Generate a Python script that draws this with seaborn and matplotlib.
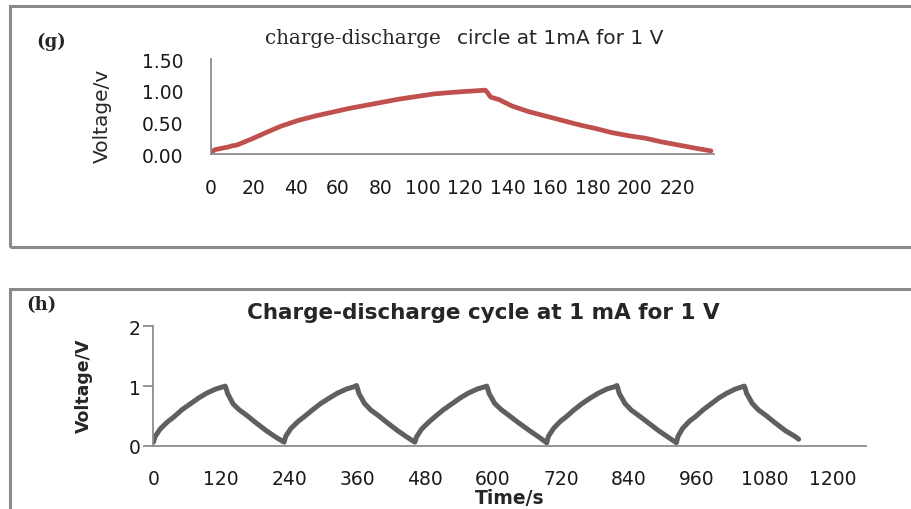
import matplotlib
matplotlib.use("Agg")
import matplotlib.pyplot as plt
from matplotlib.patches import Rectangle
import seaborn as sns

# (g) single charge-discharge at 1 mA
time_g = [0, 1, 2, 5, 8, 10, 12, 15, 20, 26, 33, 41, 49, 57, 65, 73, 81, 89, 97, 105,
          112, 120, 125, 129.5, 130.5, 132, 136, 142, 150, 158, 166, 174, 182, 189,
          197, 205, 213, 221, 229, 236]
volt_g = [0.0, 0.05, 0.07, 0.09, 0.11, 0.13, 0.14, 0.18, 0.25, 0.34, 0.44, 0.53, 0.60,
          0.66, 0.72, 0.77, 0.82, 0.87, 0.91, 0.95, 0.97, 0.99, 1.0, 1.01, 0.97, 0.90,
          0.86, 0.76, 0.67, 0.60, 0.53, 0.46, 0.40, 0.34, 0.29, 0.25, 0.19, 0.14, 0.09,
          0.05]
xticks_g = [0, 20, 40, 60, 80, 100, 120, 140, 160, 180, 200, 220]
yticks_g = [0.0, 0.5, 1.0, 1.5]

# (h) five cycles at 1 mA
time_h = [0, 3, 12, 25, 36, 50, 65, 80, 94, 110, 124, 127,
          129, 131, 141, 152, 165, 182, 200, 217, 231,
          234, 243, 256, 267, 281, 296, 311, 325, 341, 355, 359,
          361, 363, 373, 384, 397, 414, 432, 449, 462,
          465, 474, 487, 498, 512, 527, 542, 556, 572, 586, 589,
          591, 593, 603, 614, 628, 646, 665, 682, 695,
          698, 707, 719, 730, 743, 758, 772, 786, 801, 815, 819,
          821, 823, 833, 844, 857, 875, 893, 910, 924,
          927, 935, 947, 958, 971, 985, 999, 1013, 1028, 1041, 1044,
          1046, 1048, 1058, 1069, 1082, 1099, 1117, 1133, 1140]
volt_h = [0.06, 0.15, 0.28, 0.40, 0.48, 0.60, 0.70, 0.80, 0.88, 0.95, 0.99, 1.0,
          0.95, 0.88, 0.70, 0.60, 0.51, 0.38, 0.25, 0.14, 0.06,
          0.16, 0.29, 0.41, 0.49, 0.60, 0.71, 0.80, 0.88, 0.95, 0.99, 1.01,
          0.95, 0.88, 0.71, 0.60, 0.51, 0.38, 0.25, 0.14, 0.06,
          0.15, 0.28, 0.40, 0.49, 0.60, 0.70, 0.80, 0.88, 0.95, 0.99, 1.0,
          0.95, 0.88, 0.71, 0.61, 0.51, 0.38, 0.25, 0.14, 0.05,
          0.16, 0.29, 0.41, 0.49, 0.60, 0.71, 0.80, 0.88, 0.95, 0.99, 1.01,
          0.95, 0.88, 0.71, 0.60, 0.51, 0.38, 0.25, 0.14, 0.05,
          0.16, 0.29, 0.41, 0.49, 0.60, 0.70, 0.80, 0.88, 0.95, 0.99, 1.0,
          0.95, 0.88, 0.71, 0.60, 0.51, 0.38, 0.25, 0.16, 0.11]
xticks_h = [0, 120, 240, 360, 480, 600, 720, 840, 960, 1080, 1200]
yticks_h = [0, 1, 2]

sns.set_style("white")
plt.rcParams['font.family'] = ['DejaVu Sans']

fig = plt.figure(figsize=(9.11, 5.10), dpi=100)
axis_grey = '#8c8c8c'

# panel frames
fig.add_artist(Rectangle((0.011, 0.514), 1.1, 0.472, transform=fig.transFigure,
                         fill=False, edgecolor='#8a8a8a', linewidth=2.2))
fig.add_artist(Rectangle((0.011, -0.1), 1.1, 0.531, transform=fig.transFigure,
                         fill=False, edgecolor='#8a8a8a', linewidth=2.2))

# top chart
ax1 = fig.add_axes([0.2316, 0.696, 0.5524, 0.186])
sns.lineplot(x=time_g, y=volt_g, ax=ax1, color='#C0504D', linewidth=3.4,
             estimator=None)
ax1.set_xlim(0, 237.5)
ax1.set_ylim(0, 1.5)
ax1.set_xticks(xticks_g)
ax1.set_yticks(yticks_g)
ax1.set_yticklabels([f'{v:.2f}' for v in yticks_g])
ax1.tick_params(axis='both', length=0, labelsize=13.5, colors='#1a1a1a')
ax1.tick_params(axis='y', pad=20)
ax1.tick_params(axis='x', pad=17)
for s in ['top', 'right']:
    ax1.spines[s].set_visible(False)
for s in ['left', 'bottom']:
    ax1.spines[s].set_color(axis_grey)
    ax1.spines[s].set_linewidth(1.3)

fig.text(0.056, 0.918, '(g)', family='DejaVu Serif', weight='bold',
         fontsize=13, ha='center', va='center')
fig.text(0.291, 0.913, 'charge-discharge ', family='DejaVu Serif',
         fontsize=14.3, ha='left', va='baseline')
fig.text(0.728, 0.913, 'circle at 1mA for 1 V', fontsize=14.5,
         ha='right', va='baseline')
fig.text(0.112, 0.773, 'Voltage/v', fontsize=14.5, rotation=90,
         ha='center', va='center')

# bottom chart
ax2 = fig.add_axes([0.1683, 0.124, 0.7823, 0.234])
sns.lineplot(x=time_h, y=volt_h, ax=ax2, color='#5f5f5f', linewidth=3.6,
             estimator=None)
ax2.set_xlim(0, 1259)
ax2.set_ylim(0, 2)
ax2.set_xticks(xticks_h)
ax2.set_yticks(yticks_h)
ax2.tick_params(axis='x', length=0, labelsize=13.5, pad=17, colors='#1a1a1a')
ax2.tick_params(axis='y', length=7, width=1.3, color=axis_grey, direction='out',
                left=True, labelsize=13.5, pad=2, labelcolor='#1a1a1a')
for s in ['top', 'right']:
    ax2.spines[s].set_visible(False)
for s in ['left', 'bottom']:
    ax2.spines[s].set_color(axis_grey)
    ax2.spines[s].set_linewidth(1.3)

fig.text(0.045, 0.402, '(h)', family='DejaVu Serif', weight='bold',
         fontsize=13, ha='center', va='center')
fig.text(0.530, 0.386, 'Charge-discharge cycle at 1 mA for 1 V', weight='bold',
         fontsize=15.5, ha='center', va='center')
fig.text(0.092, 0.243, 'Voltage/V', weight='bold', fontsize=12.5, rotation=90,
         ha='center', va='center')
fig.text(0.560, 0.0216, 'Time/s', weight='bold', fontsize=13.5,
         ha='center', va='center')

fig.savefig('out.png', dpi=100)
